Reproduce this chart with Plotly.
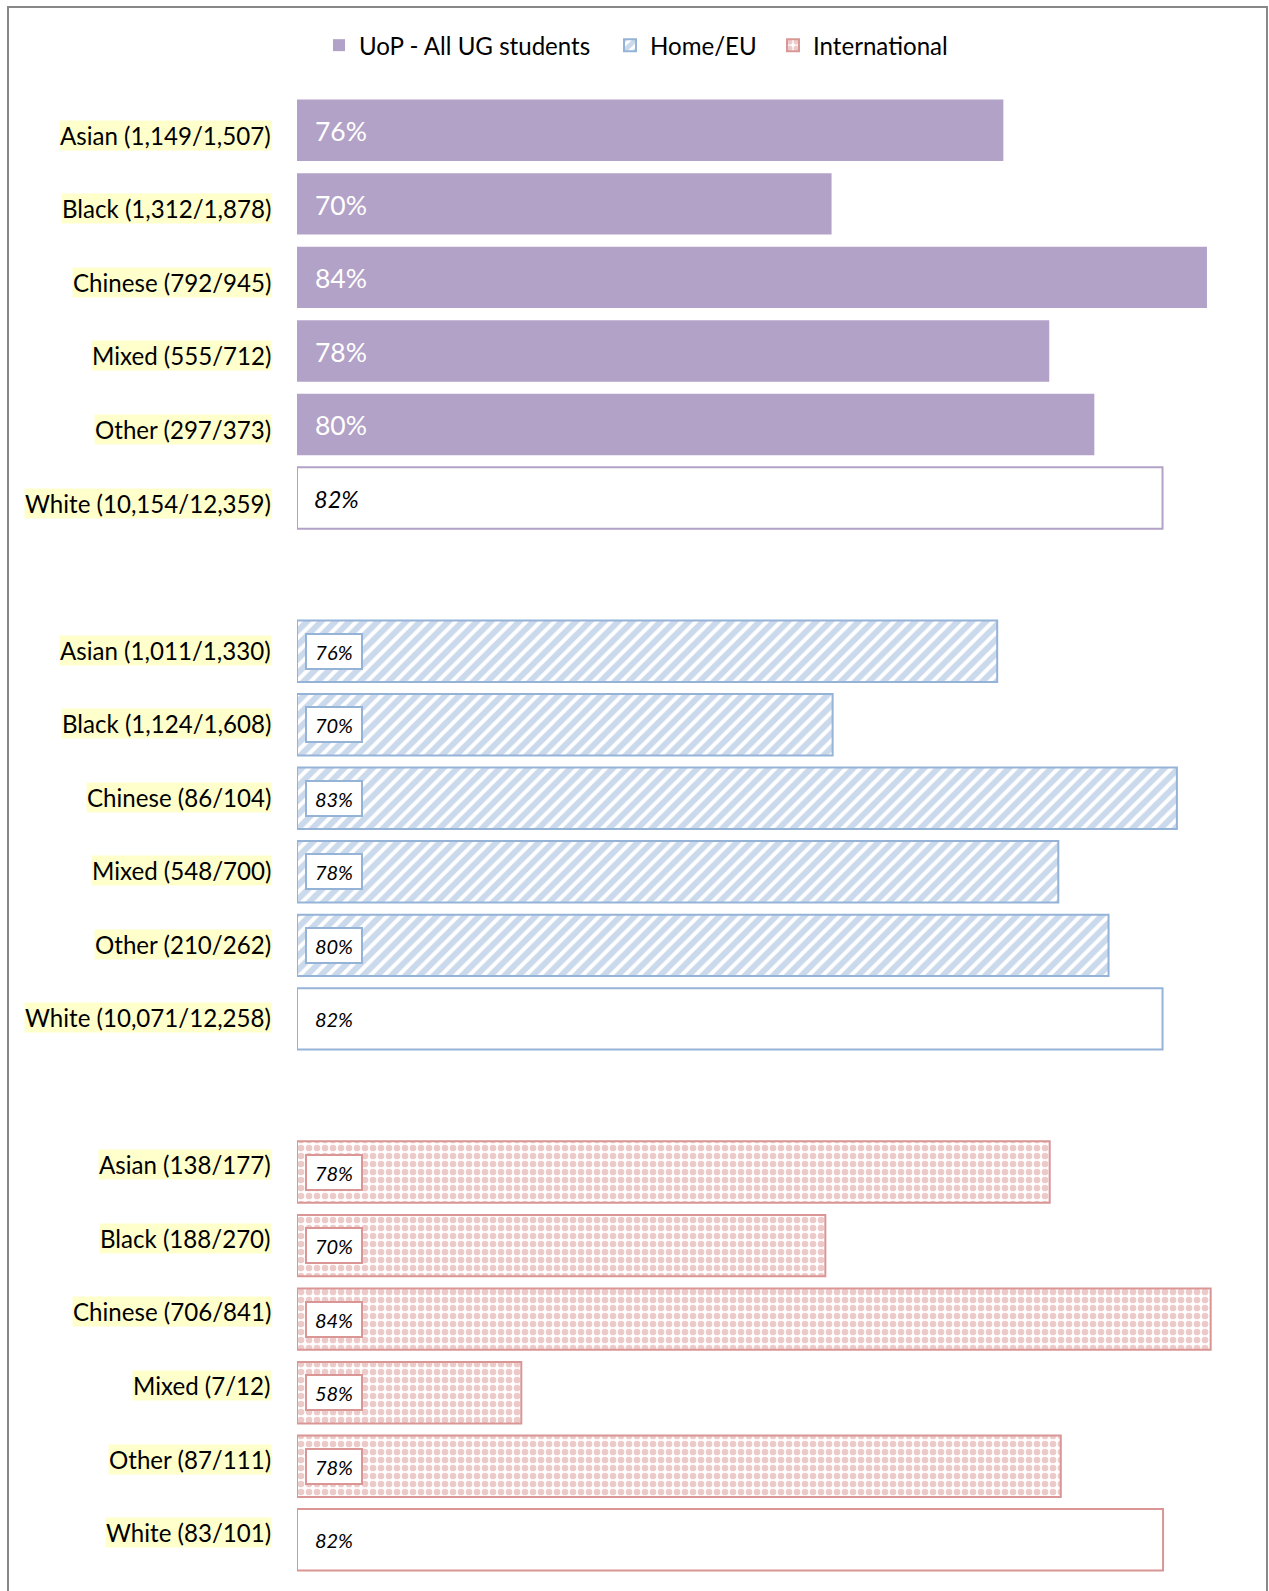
import plotly.graph_objects as go

# Undergraduate outcomes by ethnic group: passed / total counts per cohort
ethnic_groups = ["Asian", "Black", "Chinese", "Mixed", "Other", "White"]

all_passed = [1149, 1312, 792, 555, 297, 10154]
all_total = [1507, 1878, 945, 712, 373, 12359]

home_passed = [1011, 1124, 86, 548, 210, 10071]
home_total = [1330, 1608, 104, 700, 262, 12258]

intl_passed = [138, 188, 706, 7, 87, 83]
intl_total = [177, 270, 841, 12, 111, 101]

series_names = ["UoP - All UG students", "Home/EU", "International"]

# ---- layout constants -------------------------------------------------
FIG_W, FIG_H = 1269, 1591
M_L, M_R, M_T, M_B = 297, 30, 80, 11
PLOT_W = FIG_W - M_L - M_R
PLOT_H = FIG_H - M_T - M_B
X_MIN, X_MAX = 50, 85
BAR_STRIDE = 7.083            # rows per bar group incl. spacing
LABEL_STRIDE = 7              # rows per label group incl. spacing
Y_TOP, Y_BOTTOM = -0.684, 19.713
BAR_W = 0.835

FONT = "Lato"
LABEL_SIZE = 24.1
PURPLE = "#B3A2C7"
BLUE = "#95B3D7"
PINK = "#D99694"
HIGHLIGHT = "#FFFFCC"


def px_to_paper_x(px):
    return (px - M_L) / PLOT_W


def px_to_paper_y(py):
    return (FIG_H - M_B - py) / PLOT_H


cohorts = [
    (all_passed, all_total, PURPLE, None),
    (home_passed, home_total, BLUE, dict(shape="/", fgcolor=BLUE, bgcolor="white", size=10, solidity=0.6)),
    (intl_passed, intl_total, PINK, dict(shape=".", fgcolor=PINK, bgcolor="white", size=8, solidity=0.55)),
]
legend_ids = ["legend", "legend2", "legend3"]
legend_x_px = [319, 610, 773]

fig = go.Figure()
annotations = []

for g, (passed, total, color, pattern) in enumerate(cohorts):
    pct = [p / t * 100 for p, t in zip(passed, total)]
    ypos = [g * BAR_STRIDE + i for i in range(len(ethnic_groups))]
    label_pos = [g * LABEL_STRIDE + i for i in range(len(ethnic_groups))]

    # coloured bars for the non-White groups
    marker = dict(color=color if pattern is None else "white",
                  line=dict(color=color, width=0 if pattern is None else 2))
    if pattern is not None:
        marker["pattern"] = pattern
    fig.add_trace(go.Bar(
        name=series_names[g],
        legend=legend_ids[g],
        orientation="h",
        y=ypos[:5],
        x=[v - X_MIN for v in pct[:5]],
        base=X_MIN,
        width=BAR_W,
        marker=marker,
        cliponaxis=False,
        hoverinfo="skip",
    ))
    # White reference bar: outline only
    fig.add_trace(go.Bar(
        name=series_names[g] + " White",
        showlegend=False,
        orientation="h",
        y=ypos[5:],
        x=[v - X_MIN for v in pct[5:]],
        base=X_MIN,
        width=BAR_W,
        marker=dict(color="white", line=dict(color=color, width=2)),
        cliponaxis=False,
        hoverinfo="skip",
    ))

    for i, name in enumerate(ethnic_groups):
        # category label with highlight
        annotations.append(dict(
            xref="paper", yref="y",
            x=px_to_paper_x(M_L - 25), y=label_pos[i], yshift=-5,
            xanchor="right", yanchor="middle",
            text=f"{name} ({passed[i]:,}/{total[i]:,})",
            showarrow=False, bgcolor=HIGHLIGHT, borderpad=0,
            font=dict(family=FONT, size=LABEL_SIZE, color="black"),
        ))
        label = f"{pct[i]:.0f}%"
        if g == 0:
            if name == "White":
                annotations.append(dict(
                    xref="x", yref="y", x=X_MIN, y=ypos[i], xshift=15, yshift=-1,
                    xanchor="left", yanchor="middle", text=f"<i>{label}</i>",
                    showarrow=False,
                    font=dict(family=FONT, size=23.5, color="black"),
                ))
            else:
                annotations.append(dict(
                    xref="x", yref="y", x=X_MIN, y=ypos[i], xshift=16, yshift=-1,
                    xanchor="left", yanchor="middle", text=label,
                    showarrow=False,
                    font=dict(family=FONT, size=26.5, color="white"),
                ))
        else:
            boxed = name != "White"
            annotations.append(dict(
                xref="x", yref="y", x=X_MIN, y=ypos[i], xshift=8,
                xanchor="left", yanchor="middle", text=f"<i>{label}</i>",
                showarrow=False, width=46, height=25, borderpad=4,
                borderwidth=2, bordercolor=color if boxed else "rgba(0,0,0,0)",
                bgcolor="white", align="center", valign="middle",
                font=dict(family=FONT, size=20, color="black"),
            ))

# outer frame
shapes = [dict(
    type="rect", xref="paper", yref="paper",
    x0=px_to_paper_x(8), x1=px_to_paper_x(1267),
    y0=px_to_paper_y(1600), y1=px_to_paper_y(7),
    line=dict(color="#888888", width=2), fillcolor="rgba(0,0,0,0)",
    layer="below",
)]


def legend_box(px):
    return dict(
        orientation="h", x=px_to_paper_x(px), xanchor="left",
        y=px_to_paper_y(45.5), yanchor="middle",
        font=dict(family=FONT, size=LABEL_SIZE, color="black"),
        bgcolor="rgba(0,0,0,0)",
    )


fig.update_layout(
    width=FIG_W, height=FIG_H,
    margin=dict(l=M_L, r=M_R, t=M_T, b=M_B, pad=0),
    paper_bgcolor="white", plot_bgcolor="white",
    barmode="overlay",
    xaxis=dict(range=[X_MIN, X_MAX], visible=False),
    yaxis=dict(range=[Y_BOTTOM, Y_TOP], visible=False),
    legend=legend_box(legend_x_px[0]),
    legend2=legend_box(legend_x_px[1]),
    legend3=legend_box(legend_x_px[2]),
    annotations=annotations,
    shapes=shapes,
    font=dict(family=FONT),
)

fig.write_html("out.html")
